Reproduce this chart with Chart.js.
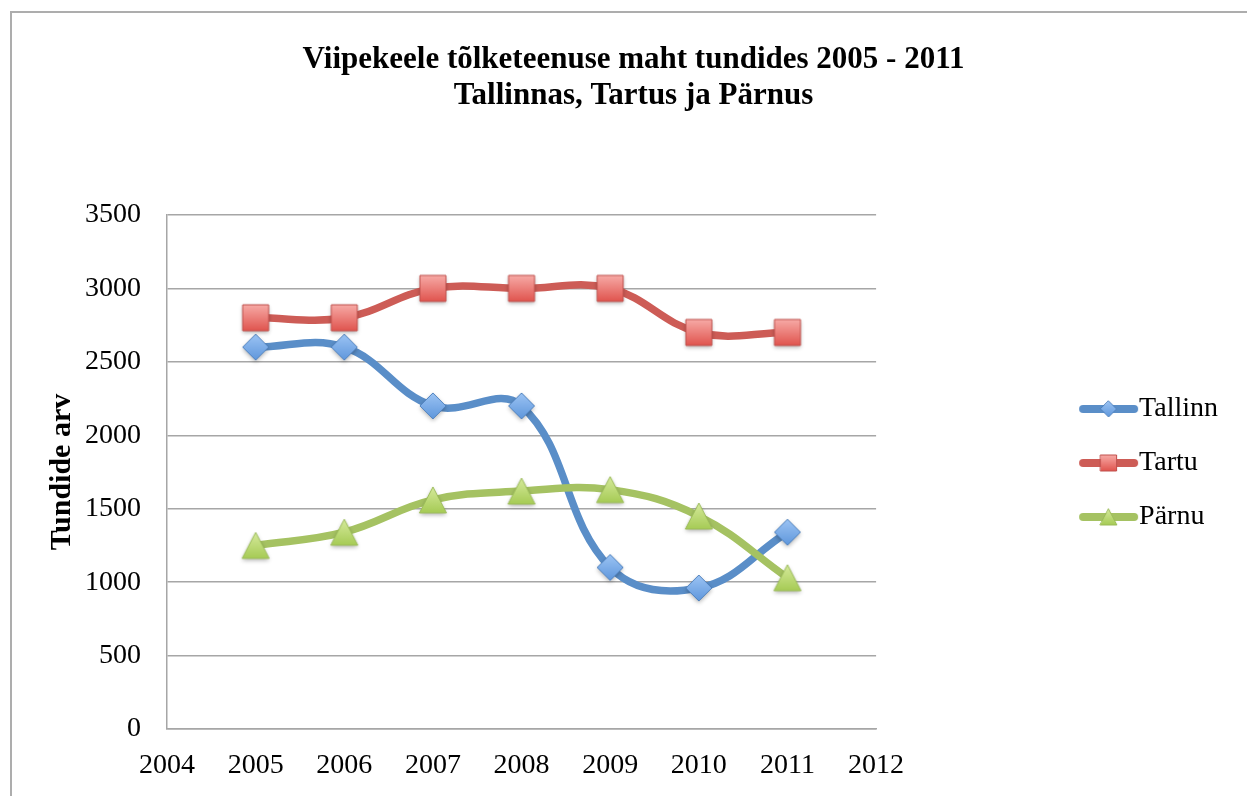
<!DOCTYPE html>
<html>
<head>
<meta charset="utf-8">
<script src="https://cdn.jsdelivr.net/npm/chart.js@4.4.0/dist/chart.umd.min.js"></script>
<style>
  body { margin: 0; background: #fff; }
  #wrap { position: relative; width: 1247px; height: 796px; overflow: hidden; }
  #frame { position: absolute; left: 10px; top: 11px; width: 1400px; height: 1000px;
           border-left: 2px solid #adadad; border-top: 2px solid #adadad; }
  canvas { position: absolute; left: 0; top: 0; }
</style>
</head>
<body>
<div id="wrap">
  <div id="frame"></div>
  <canvas id="chart" width="1247" height="796"></canvas>
</div>
<script>
// values
var years = [2005, 2006, 2007, 2008, 2009, 2010, 2011];
var tallinn = [2600, 2600, 2200, 2200, 1100, 960, 1340];
var tartu = [2800, 2800, 3000, 3000, 3000, 2700, 2700];
var parnu = [1250, 1340, 1560, 1620, 1630, 1450, 1030];
var seriesNames = ['Tallinn', 'Tartu', 'Pärnu'];
var titleLines = ['Viipekeele tõlketeenuse maht tundides 2005 - 2011', 'Tallinnas, Tartus ja Pärnus'];
var yTitle = 'Tundide arv';
var xRange = [2004, 2012];
var yRange = [0, 3500];
var yStep = 500;

var FONT = "'Liberation Serif', 'Times New Roman', serif";
Chart.defaults.font.family = FONT;

var styles = [
    { line: '#5a8ec8', top: '#9cc4f4', bottom: '#5f97dc', edge: '#4f81bd', shape: 'diamond' },
    { line: '#cd5c56', top: '#f7aaa6', bottom: '#e0544e', edge: '#c0504d', shape: 'square' },
    { line: '#a5c262', top: '#d6ea9c', bottom: '#a6cb55', edge: '#9bbb59', shape: 'triangle' }
];

function shapePath(ctx, shape, cx, cy, s) {
    ctx.beginPath();
    if (shape === 'diamond') {
        ctx.moveTo(cx, cy - s); ctx.lineTo(cx + s, cy); ctx.lineTo(cx, cy + s); ctx.lineTo(cx - s, cy);
    } else if (shape === 'square') {
        ctx.rect(cx - s, cy - s, 2 * s, 2 * s);
    } else {
        ctx.moveTo(cx, cy - s); ctx.lineTo(cx + s * 1.04, cy + s); ctx.lineTo(cx - s * 1.04, cy + s);
    }
    ctx.closePath();
}

function drawMarker(ctx, st, cx, cy, s, shadow) {
    ctx.save();
    if (shadow) {
        ctx.shadowColor = 'rgba(0,0,0,0.3)';
        ctx.shadowBlur = 4;
        ctx.shadowOffsetY = 2;
    }
    shapePath(ctx, st.shape, cx, cy, s);
    var g = ctx.createLinearGradient(0, cy - s, 0, cy + s);
    g.addColorStop(0, st.top);
    g.addColorStop(1, st.bottom);
    ctx.fillStyle = g;
    ctx.fill();
    ctx.restore();
    shapePath(ctx, st.shape, cx, cy, s);
    ctx.strokeStyle = st.edge;
    ctx.lineWidth = 1;
    ctx.stroke();
}

function markerImage(st) {
    var c = document.createElement('canvas');
    c.width = 40; c.height = 40;
    drawMarker(c.getContext('2d'), st, 20, 20, 13, true);
    return c;
}

// legend sample: thick line with a small marker, right edge touching the text
var LEG_BOX = 223, LEG_FONT = 28;
function legendImage(st) {
    var w = LEG_BOX + LEG_FONT, h = 30;
    var c = document.createElement('canvas');
    c.width = w; c.height = h;
    var ctx = c.getContext('2d');
    ctx.strokeStyle = st.line;
    ctx.lineWidth = 8;
    ctx.lineCap = 'round';
    ctx.beginPath();
    ctx.moveTo(w - 56, h / 2);
    ctx.lineTo(w - 5, h / 2);
    ctx.stroke();
    drawMarker(ctx, st, w - 30.5, h / 2, 8, false);
    return c;
}

function points(values) {
    return years.map(function(yr, i) { return { x: yr, y: values[i] }; });
}

var allValues = [tallinn, tartu, parnu];
var markerImgs = styles.map(markerImage);
var legendImgs = styles.map(legendImage);

var datasets = allValues.map(function(vals, i) {
    return {
        label: seriesNames[i],
        data: points(vals),
        borderColor: styles[i].line,
        backgroundColor: styles[i].line,
        borderWidth: 7.5,
        tension: 0.4,
        pointStyle: markerImgs[i],
        pointRadius: 13,
        order: 3 - i
    };
});

var axisGray = '#a6a6a6';

new Chart(document.getElementById('chart'), {
    type: 'line',
    data: { datasets: datasets },
    options: {
        responsive: false,
        animation: false,
        layout: { padding: { left: 39, right: 19, top: 0, bottom: 0 } },
        scales: {
            x: {
                type: 'linear',
                min: xRange[0],
                max: xRange[1],
                ticks: {
                    stepSize: 1,
                    padding: 20,
                    color: '#000',
                    font: { size: 28 },
                    callback: function(v) { return String(v); }
                },
                grid: { display: false, drawTicks: false },
                border: { display: true, color: axisGray, width: 1.5 },
                afterFit: function(s) { s.height = 67; }
            },
            y: {
                min: yRange[0],
                max: yRange[1],
                ticks: {
                    stepSize: yStep,
                    padding: 26,
                    color: '#000',
                    font: { size: 28 },
                    callback: function(v) { return String(v); }
                },
                grid: { color: axisGray, lineWidth: 1.5, drawTicks: false },
                border: { display: true, color: axisGray, width: 1.5 },
                title: {
                    display: true,
                    text: yTitle,
                    color: '#000',
                    font: { size: 30, weight: 'bold' },
                    padding: { top: 5, bottom: 0 }
                },
                afterFit: function(s) { s.width = 128; }
            }
        },
        plugins: {
            title: {
                display: true,
                text: titleLines,
                color: '#000',
                font: { size: 31, weight: 'bold', lineHeight: '36px' },
                padding: { top: 42, bottom: 101 }
            },
            legend: {
                position: 'right',
                align: 'center',
                maxWidth: 420,
                title: { display: true, text: ' ', font: { size: 1 }, padding: { top: 64, bottom: 64.8 } },
                labels: {
                    usePointStyle: true,
                    pointStyleWidth: LEG_BOX,
                    padding: 26,
                    color: '#000',
                    font: { size: LEG_FONT },
                    sort: function(a, b) { return a.datasetIndex - b.datasetIndex; },
                    generateLabels: function(chart) {
                        var items = Chart.defaults.plugins.legend.labels.generateLabels(chart);
                        items.forEach(function(it) { it.pointStyle = legendImgs[it.datasetIndex]; });
                        return items;
                    }
                }
            },
            tooltip: { enabled: false }
        }
    }
});
</script>
</body>
</html>
